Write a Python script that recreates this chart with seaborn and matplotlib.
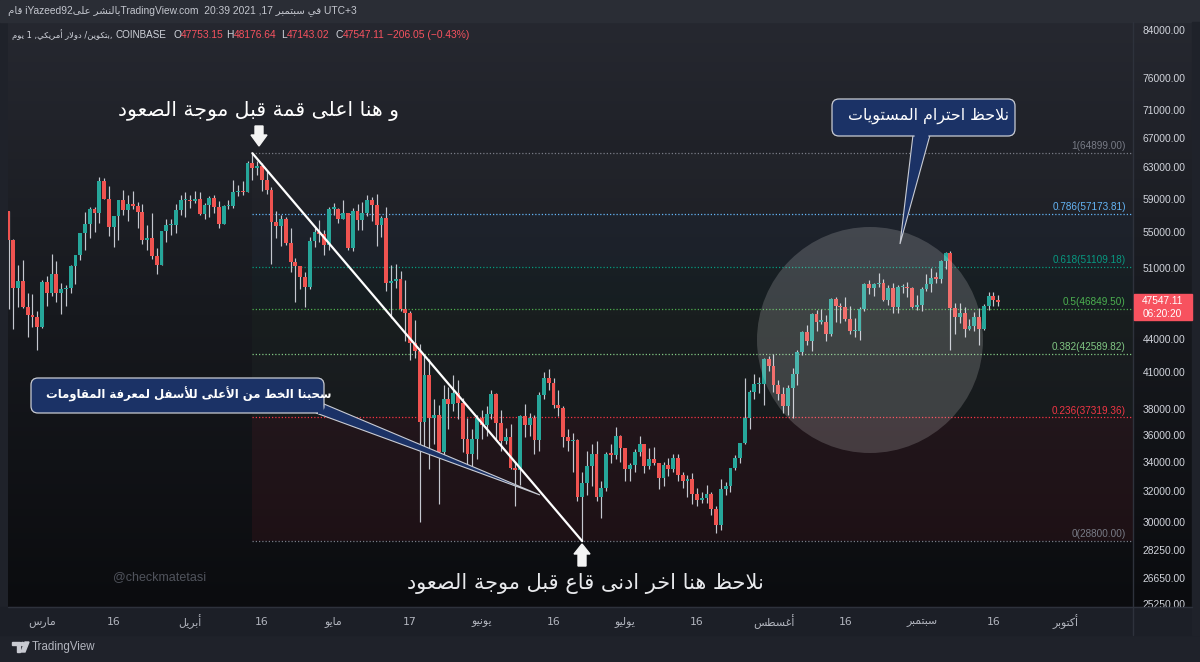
import re
import numpy as np
import pandas as pd
import matplotlib
matplotlib.use('Agg')
import matplotlib.pyplot as plt
import seaborn as sns
from matplotlib.colors import LinearSegmentedColormap
from matplotlib.patches import Polygon, FancyBboxPatch, Ellipse, Rectangle, Circle
from matplotlib.transforms import Affine2D, blended_transform_factory
from matplotlib.ticker import NullLocator, NullFormatter

# BTC / USD daily candles (Coinbase), 22 Feb -> 17 Sep 2021, in thousands
first_open = 57.49
close_k = [
    54.09, 48.89, 49.71, 47.06, 46.28, 46.10, 45.14,                      # Feb 22-28
    49.6, 48.4, 50.4, 48.4, 48.8, 48.9, 51.2, 52.4, 54.9, 55.9, 57.8, 57.2, 61.2, 59.0, 55.6, 56.9,
    58.9, 57.6, 58.3, 58.1, 57.4, 54.1, 54.3, 52.3, 51.3, 55.1, 55.8, 55.8, 57.6, 58.8, 58.8,   # Mar
    58.7, 59.0, 57.1, 58.2, 59.1, 58.0, 56.0, 58.1, 58.1, 59.8, 59.9, 59.8, 63.6, 62.9, 63.2,
    61.4, 60.1, 56.2, 55.7, 56.5, 53.8, 51.7, 51.2, 50.1, 49.0, 54.0, 55.0, 54.8, 53.6, 57.8,   # Apr
    57.8, 56.6, 57.2, 53.2, 57.5, 56.4, 57.3, 58.9, 58.2, 55.8, 56.7, 49.4, 49.7, 49.9, 46.8, 46.4,
    43.6, 42.9, 37.0, 40.8, 37.3, 37.5, 34.7, 38.8, 38.4, 39.3, 38.5, 35.7, 34.6, 35.7, 37.3,   # May
    36.7, 37.6, 39.2, 36.9, 35.5, 35.8, 33.6, 33.4, 37.4, 36.7, 37.3, 35.6, 39.1, 40.5, 40.1,
    38.3, 38.1, 35.8, 35.5, 35.6, 31.6, 32.5, 33.7, 34.6, 31.6, 32.2, 34.6, 34.5, 35.9, 35.0,   # Jun
    33.5, 33.8, 34.7, 35.3, 33.7, 34.2, 33.9, 32.9, 33.8, 33.5, 34.3, 33.1, 32.7, 32.8, 31.8, 31.4,
    31.5, 31.8, 30.8, 29.8, 32.1, 32.3, 33.6, 34.3, 35.4, 37.3, 39.4, 40.0, 40.0, 42.2, 41.6,   # Jul
    39.9, 39.2, 38.2, 39.7, 40.9, 42.8, 44.6, 43.8, 46.3, 45.6, 45.6, 44.4, 47.8, 47.1, 47.0, 45.9,
    44.7, 44.7, 46.8, 49.3, 48.9, 49.3, 49.5, 47.7, 48.9, 47.0, 49.0, 49.0, 48.9, 47.0, 47.2,   # Aug
    48.8, 49.3, 50.0, 49.9, 51.8, 52.7, 46.9, 46.1, 46.4, 44.9, 45.2, 46.1, 44.9, 47.1, 48.1,
    47.753, 47.547,                                                       # Sep
]
high_k = [
    57.53, 54.2, 51.4, 51.9, 48.4, 48.3, 46.6,
    49.8, 50.2, 52.6, 51.8, 49.4, 49.2, 51.4, 52.4, 54.9, 57.4, 58.0, 58.0, 61.7, 61.6, 60.6, 56.9,
    58.9, 60.1, 59.5, 59.9, 58.6, 58.4, 55.8, 57.2, 53.2, 55.1, 56.6, 56.5, 58.4, 59.4, 59.8,
    59.5, 60.0, 59.8, 58.5, 59.3, 59.5, 58.7, 58.2, 58.9, 61.3, 60.7, 61.2, 63.8, 64.899, 63.8,
    63.6, 62.5, 60.4, 57.5, 57.0, 56.8, 55.5, 52.1, 51.2, 50.6, 54.4, 55.5, 56.4, 55.2, 58.0,
    58.5, 57.9, 58.9, 57.2, 57.9, 58.4, 58.6, 59.5, 59.2, 59.6, 56.9, 58.0, 51.3, 51.5, 50.7, 49.8,
    46.6, 45.8, 43.5, 42.5, 42.2, 38.8, 38.3, 39.9, 39.8, 40.8, 40.4, 38.9, 37.3, 36.4, 37.5,
    37.9, 38.2, 39.5, 39.3, 37.9, 36.5, 36.8, 34.0, 37.5, 38.4, 37.7, 37.5, 39.4, 41.0, 41.3,
    40.5, 39.5, 38.2, 36.4, 36.1, 35.7, 33.3, 34.8, 35.3, 35.5, 32.7, 34.7, 35.3, 36.6, 36.0,
    35.0, 33.9, 34.9, 35.9, 35.3, 35.0, 35.1, 33.9, 34.0, 34.3, 34.6, 34.6, 33.3, 33.1, 33.2, 32.2,
    31.9, 32.4, 31.9, 31.0, 32.8, 32.6, 33.6, 34.5, 35.4, 40.5, 39.5, 40.9, 40.6, 42.3, 42.4,
    42.6, 40.4, 39.8, 39.9, 41.4, 43.0, 44.7, 45.3, 46.4, 46.7, 46.8, 46.2, 47.9, 48.0, 47.4, 48.0,
    47.1, 46.0, 47.0, 49.4, 49.8, 49.5, 50.5, 49.9, 49.2, 49.4, 49.2, 49.3, 49.6, 49.0, 48.2,
    49.0, 50.4, 51.0, 50.6, 51.9, 52.8, 52.9, 47.4, 47.4, 47.0, 45.9, 46.5, 46.9, 47.3, 48.5,
    48.5, 48.177,
]
low_k = [
    46.8, 44.9, 47.0, 46.9, 44.2, 45.1, 43.0,
    45.0, 47.1, 48.1, 47.5, 46.3, 47.1, 48.4, 49.3, 51.9, 53.0, 54.3, 55.0, 56.1, 59.0, 54.6, 53.3,
    54.1, 57.0, 56.3, 57.8, 55.5, 53.7, 53.0, 52.0, 50.4, 51.3, 53.9, 54.7, 54.9, 57.0, 56.8,
    57.9, 58.5, 57.0, 56.5, 56.8, 57.3, 55.5, 55.9, 57.7, 57.9, 59.3, 59.4, 59.8, 61.3, 62.0,
    60.0, 59.6, 51.5, 54.3, 53.4, 53.6, 50.6, 47.5, 48.8, 47.0, 48.8, 53.3, 53.9, 52.4, 53.0,
    57.0, 56.1, 56.5, 53.0, 52.9, 55.3, 55.3, 56.9, 56.3, 53.4, 54.4, 48.6, 46.0, 48.9, 46.6, 43.8,
    42.1, 42.3, 30.0, 35.0, 33.5, 35.3, 31.1, 34.4, 36.4, 37.8, 37.2, 34.7, 33.6, 33.4, 34.2,
    35.7, 35.9, 37.2, 35.6, 34.8, 35.3, 33.5, 31.0, 32.4, 35.8, 35.9, 34.6, 34.8, 38.8, 39.5,
    38.1, 37.4, 35.1, 34.8, 33.3, 31.3, 28.8, 31.7, 32.3, 31.3, 30.2, 32.0, 33.9, 34.2, 34.0,
    32.7, 32.7, 33.3, 34.4, 33.2, 33.5, 33.8, 32.1, 32.3, 33.0, 33.3, 32.7, 32.2, 31.6, 31.1, 31.0,
    31.2, 31.2, 30.4, 29.3, 29.5, 31.7, 31.9, 33.4, 33.9, 35.3, 36.4, 38.8, 39.3, 38.3, 41.1,
    39.4, 38.7, 37.7, 37.5, 37.3, 39.9, 42.5, 43.4, 42.9, 44.7, 45.4, 43.8, 44.3, 45.6, 45.5, 45.7,
    44.4, 44.2, 43.9, 46.6, 48.3, 48.1, 49.0, 47.6, 47.2, 46.4, 46.4, 48.4, 48.0, 46.9, 46.7,
    46.6, 48.6, 48.5, 49.4, 49.5, 50.9, 43.0, 44.4, 45.5, 44.2, 44.8, 44.7, 43.4, 44.8, 46.7,
    47.1, 47.143,
]

fib_ratios = ['0', '0.236', '0.382', '0.5', '0.618', '0.786', '1']
fib_prices = [28800.00, 37319.36, 42589.82, 46849.50, 51109.18, 57173.81, 64899.00]
fib_colors = ['#787b86', '#f23645', '#81c784', '#4caf50', '#089981', '#64b5f6', '#787b86']
fill_colors = ['#f23645', '#81c784', '#4caf50', '#089981', '#64b5f6', '#787b86']

price_ticks = [84000, 76000, 71000, 67000, 63000, 59000, 55000, 51000, 44000,
               41000, 38000, 36000, 34000, 32000, 30000, 28250, 26650, 25250]
tick_dates = ['2021-03-01', '2021-03-16', '2021-04-01', '2021-04-16', '2021-05-01',
              '2021-05-17', '2021-06-01', '2021-06-16', '2021-07-01', '2021-07-16',
              '2021-08-01', '2021-08-16', '2021-09-01', '2021-09-16', '2021-10-01']
tick_names = ['مارس', '16', 'أبريل', '16', 'مايو', '17', 'يونيو', '16', 'يوليو', '16',
              'أغسطس', '16', 'سبتمبر', '16', 'أكتوبر']

# ---- minimal arabic shaping (matplotlib has no bidi / joining) ----
_tab = [('ء', 0xFE80, 1), ('آ', 0xFE81, 2), ('أ', 0xFE83, 2), ('ؤ', 0xFE85, 2), ('إ', 0xFE87, 2),
        ('ئ', 0xFE89, 4), ('ا', 0xFE8D, 2), ('ب', 0xFE8F, 4), ('ة', 0xFE93, 2), ('ت', 0xFE95, 4),
        ('ث', 0xFE99, 4), ('ج', 0xFE9D, 4), ('ح', 0xFEA1, 4), ('خ', 0xFEA5, 4), ('د', 0xFEA9, 2),
        ('ذ', 0xFEAB, 2), ('ر', 0xFEAD, 2), ('ز', 0xFEAF, 2), ('س', 0xFEB1, 4), ('ش', 0xFEB5, 4),
        ('ص', 0xFEB9, 4), ('ض', 0xFEBD, 4), ('ط', 0xFEC1, 4), ('ظ', 0xFEC5, 4), ('ع', 0xFEC9, 4),
        ('غ', 0xFECD, 4), ('ف', 0xFED1, 4), ('ق', 0xFED5, 4), ('ك', 0xFED9, 4), ('ل', 0xFEDD, 4),
        ('م', 0xFEE1, 4), ('ن', 0xFEE5, 4), ('ه', 0xFEE9, 4), ('و', 0xFEED, 2), ('ى', 0xFEEF, 2),
        ('ي', 0xFEF1, 4)]
FORMS = {c: (s, k) for c, s, k in _tab}
LAMALEF = {'آ': 0xFEF5, 'أ': 0xFEF7, 'إ': 0xFEF9, 'ا': 0xFEFB}


def ar(s):
    out, i, n = [], 0, len(s)
    while i < n:
        c = s[i]
        if c not in FORMS:
            out.append(c)
            i += 1
            continue
        prev = s[i - 1] if i > 0 else None
        jp = prev in FORMS and FORMS[prev][1] == 4
        if c == 'ل' and i + 1 < n and s[i + 1] in LAMALEF:
            out.append(chr(LAMALEF[s[i + 1]] + (1 if jp else 0)))
            i += 2
            continue
        start, k = FORMS[c]
        nxt = s[i + 1] if i + 1 < n else None
        jn = k == 4 and nxt in FORMS and FORMS[nxt][1] != 1
        if k == 1:
            f = 0
        elif jp and jn:
            f = 3
        elif jp:
            f = 1
        elif jn:
            f = 2
        else:
            f = 0
        out.append(chr(start + f))
        i += 1
    vis = ''.join(out)[::-1]
    # latin / digit runs keep their own left-to-right order
    return re.sub(r'[0-9A-Za-z.:+%]+', lambda m: m.group(0)[::-1], vis)


# ---- data frame ----
dates = pd.date_range('2021-02-22', periods=len(close_k), freq='D')
t0 = pd.Timestamp('2021-03-01')
df = pd.DataFrame({'date': dates,
                   'close': np.array(close_k) * 1000,
                   'high': np.array(high_k) * 1000,
                   'low': np.array(low_k) * 1000})
df['open'] = [first_open * 1000] + list(df['close'][:-1])
df['day'] = (df['date'] - t0).dt.days
df['up'] = df['close'] >= df['open']

W, H = 1200, 662
sns.set_theme(style='dark', rc={'axes.facecolor': 'none', 'figure.facecolor': '#1f222a',
                                'axes.edgecolor': 'none', 'axes.grid': False})
plt.rcParams['font.family'] = ['DejaVu Sans']
AR = ['DejaVu Sans']
LAT = ['Liberation Sans', 'DejaVu Sans']

fig = plt.figure(figsize=(12, 6.62), dpi=100)
fig.patch.set_facecolor('#1f222a')
PIX = Affine2D().scale(1 / W, -1 / H).translate(0, 1) + fig.transFigure


def ftext(x, y, s, **kw):
    return fig.text(x / W, 1 - y / H, s, **kw)


# gradient background of chart + price scale
bg = fig.add_axes([8 / W, (H - 607) / H, (1192 - 8) / W, (607 - 22) / H], zorder=-2)
cmap = LinearSegmentedColormap.from_list('bg', ['#0b0c0f', '#17191e', '#262830'])
bg.imshow(np.linspace(0, 1, 256)[::-1].reshape(-1, 1), aspect='auto', cmap=cmap,
          extent=[0, 1, 0, 1])
bg.set_axis_off()

ax = fig.add_axes([8 / W, (H - 607) / H, 1125 / W, 585 / H], zorder=1)
ax.patch.set_alpha(0)
ax.set_yscale('log')
ax.set_ylim(25090, 85420)
ax.set_xlim(-7.11, 228.2)

x_high = df.loc[df['high'].idxmax(), 'day']
x_low = df.loc[df['low'].idxmin(), 'day']
x_end = 228.2

# fib zones + levels
for i in range(len(fill_colors)):
    ax.fill_between([x_high, x_end], fib_prices[i], fib_prices[i + 1],
                    color=fill_colors[i], alpha=0.07 if i == 0 else 0.04, lw=0, zorder=1)
lbl_tr = blended_transform_factory(ax.transAxes, ax.transData)
for r, p, c in zip(fib_ratios, fib_prices, fib_colors):
    ax.hlines(p, x_high, x_end, colors=c, linestyles=(0, (1, 1.6)), lw=0.9, zorder=2)
    ax.text(0.9935, p * 1.004, f'{r}({p:.2f})', transform=lbl_tr, ha='right', va='bottom',
            color=c, fontsize=7.2, family=LAT, zorder=6)

# candles
up_c, dn_c = '#26a69a', '#ef5350'
ax.vlines(df['day'], df['low'], df['high'], colors='#c4c7cf', lw=0.85, zorder=3)
body_lo = np.minimum(df['open'], df['close'])
body_h = np.maximum(np.abs(df['close'] - df['open']), df['open'] * 0.003)
ax.bar(df['day'], body_h, bottom=body_lo, width=0.8,
       color=np.where(df['up'], up_c, dn_c), lw=0, zorder=4)

# trend line high -> low
sns.lineplot(x=[x_high, x_low], y=[fib_prices[-1], fib_prices[0]], color='white',
             lw=1.6, ax=ax, zorder=5)

ax.set_xlabel('')
ax.set_ylabel('')
ax.yaxis.tick_right()
ax.yaxis.set_minor_locator(NullLocator())
ax.yaxis.set_minor_formatter(NullFormatter())
ax.set_yticks(price_ticks, [f'{t:.2f}' for t in price_ticks])
ax.tick_params(axis='y', length=0, pad=7, labelsize=7.4, labelcolor='#d1d4dc')
for t in ax.get_yticklabels():
    t.set_family(LAT)
tick_days = [(pd.Timestamp(d) - t0).days for d in tick_dates]
ax.set_xticks(tick_days, [ar(s) for s in tick_names])
ax.tick_params(axis='x', length=0, pad=10.8, labelsize=7.8, labelcolor='#b2b5be')
for t in ax.get_xticklabels():
    t.set_va('center')
for sp in ax.spines.values():
    sp.set_visible(False)

# frame pieces
fig.add_artist(Rectangle((0, 0), W, 22, transform=PIX, color='#2a2d35', zorder=0))
fig.add_artist(Rectangle((0, 607), W, 28, transform=PIX, color='#1c1f27', zorder=0))
fig.add_artist(Rectangle((1192, 22), 8, 613, transform=PIX, color='#1f222a', zorder=0))
fig.add_artist(plt.Line2D([8, 1192], [607, 607], transform=PIX, color='#2e323c', lw=1))
fig.add_artist(plt.Line2D([1133, 1133], [22, 635], transform=PIX, color='#2e323c', lw=1))

# header lines
hdr = (ar('قام') + ' iYazeed92' + ar('بالنشر على') + 'TradingView.com  20:39 2021 ,17 '
       + ar('في سبتمبر') + ' UTC+3')
ftext(8, 11, hdr, color='#c3c6ce', fontsize=7.4, va='center', family=LAT)
ftext(12, 35, ar('بتكوين/ دولار أمريكي, 1 يوم') + ',', color='#d1d4dc', fontsize=6.0,
      va='center', family=AR)
ftext(115, 35, 'COINBASE', color='#d1d4dc', fontsize=7.1, va='center', family=LAT)
for lx, lab, vx, val in [(173, 'O', 181, '47753.15'), (226, 'H', 234, '48176.64'),
                         (281, 'L', 287, '47143.02'), (335, 'C', 343, '47547.11')]:
    ftext(lx, 35, lab, color='#d1d4dc', fontsize=7.4, va='center', family=LAT)
    ftext(vx, 35, val, color='#f7525f', fontsize=7.4, va='center', family=LAT)
ftext(387, 35, '\u2212206.05 (\u22120.43%)', color='#f7525f', fontsize=7.4, va='center',
      family=LAT)

# price tag
fig.add_artist(Rectangle((1134, 294), 58, 26, transform=PIX, color='#f7525f', zorder=4))
ftext(1162, 301, '47547.11', color='white', fontsize=7.3, ha='center', va='center',
      family=LAT, zorder=5)
ftext(1162, 314, '06:20:20', color='white', fontsize=7.3, ha='center', va='center',
      family=LAT, zorder=5)

# footer logo + name
LOGO = '#c8cad1'
fig.add_artist(Polygon([(12, 642), (20, 642), (20, 652), (17, 652), (17, 645), (12, 645)],
                       transform=PIX, color=LOGO, zorder=3))
fig.add_artist(Circle((22.5, 644), 1.6, transform=PIX, color=LOGO, zorder=3))
fig.add_artist(Polygon([(25, 642), (29, 642), (25, 652), (21, 652)], transform=PIX,
                       color=LOGO, zorder=3))
ftext(32, 647, 'TradingView', color='#b2b5be', fontsize=8.3, va='center', family=LAT)
ftext(113, 577, '@checkmatetasi', color='#50535c', fontsize=9, va='center', family=LAT)

# highlight circle
fig.add_artist(Ellipse((870, 340), 226, 226, transform=PIX, facecolor=(1, 1, 1, 0.17),
                       edgecolor='none', zorder=2))

# block arrows
WHITE = '#f4f4f4'
fig.add_artist(Polygon([(255, 126), (263, 126), (263, 135), (267, 135), (259, 146),
                        (251, 135), (255, 135)], transform=PIX, color=WHITE, zorder=3))
fig.add_artist(Polygon([(582, 544), (590, 554), (586, 554), (586, 566), (578, 566),
                        (578, 554), (574, 554)], transform=PIX, color=WHITE, zorder=3))

ftext(258, 111, ar('و هنا اعلى قمة قبل موجة الصعود'), color='white', fontsize=14.6,
      ha='center', va='center', family=AR, zorder=4)
ftext(585, 583, ar('نلاحظ هنا اخر ادنى قاع قبل موجة الصعود'), color='#e8e9ec', fontsize=15,
      ha='center', va='center', family=AR, zorder=4)

# callouts
NAVY, EDGE = '#1b3266', '#c9ccd4'


def callout(x0, y0, w, h, tri, cover):
    fig.add_artist(Polygon(tri, transform=PIX, facecolor=NAVY, edgecolor=EDGE, lw=0.8,
                           zorder=5))
    fig.add_artist(FancyBboxPatch((x0, y0), w, h, boxstyle='round,pad=0,rounding_size=7',
                                  transform=PIX, facecolor=NAVY, edgecolor=EDGE, lw=0.9,
                                  zorder=6))
    fig.add_artist(Polygon(cover, transform=PIX, facecolor=NAVY, edgecolor='none', zorder=7))


callout(832, 99, 183, 37, [(913, 135), (930, 135), (900, 244)],
        [(914.5, 133), (928.5, 133), (928.3, 138), (914.7, 138)])
ftext(928, 116, ar('نلاحظ احترام المستويات'), color='white', fontsize=11.4, ha='center',
      va='center', family=AR, zorder=8)

callout(31, 378, 293, 35, [(316, 413), (324, 404), (540, 495)],
        [(318, 411), (323, 406), (324.5, 413), (318, 414)])
ftext(189, 394, ar('سحبنا الخط من الأعلى للأسفل لمعرفة المقاومات'), color='white',
      fontsize=8.4, weight='bold', ha='center', va='center', family=AR, zorder=8)

fig.savefig('out.png', dpi=100, facecolor=fig.get_facecolor())
